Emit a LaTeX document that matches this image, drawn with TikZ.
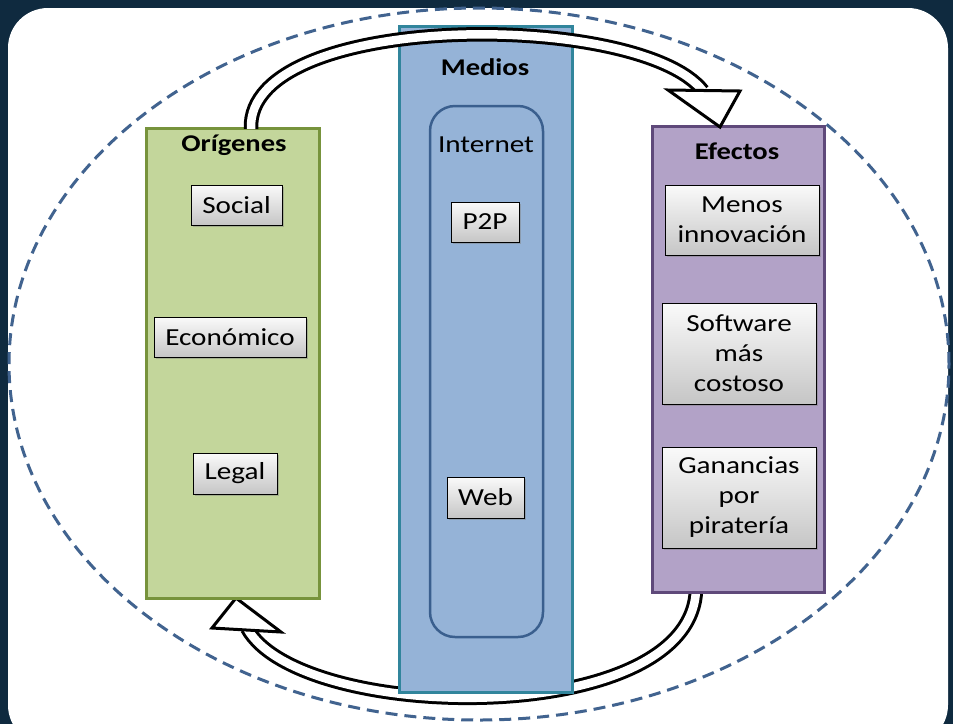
\documentclass[tikz,border=0pt]{standalone}
\usepackage{fontspec}
\setmainfont{Carlito}[FakeStretch=1.19]
\usetikzlibrary{shadows}
\definecolor{bgdark}{HTML}{0F2A3F}
\definecolor{ellcol}{HTML}{41638F}
\definecolor{greenfill}{HTML}{C3D69B}
\definecolor{greenline}{HTML}{77933C}
\definecolor{bluefill}{HTML}{95B3D7}
\definecolor{blueline}{HTML}{31859C}
\definecolor{inetline}{HTML}{3A5F8E}
\definecolor{purplefill}{HTML}{B2A2C7}
\definecolor{purpleline}{HTML}{5F497A}
\tikzset{
  container/.style={draw, line width=3pt, inner sep=0pt},
  title/.style={font=\fontsize{24}{28}\selectfont\bfseries, inner sep=0pt},
  itembox/.style={draw=black, line width=1pt, inner sep=0pt, align=center,
    top color=white!96!gray, bottom color=gray!45,
    font=\fontsize{24.5}{30}\selectfont,
    drop shadow={opacity=0.45, shadow xshift=2pt, shadow yshift=-2pt}},
  hollowshaft/.style={draw=black, line width=3pt, double=white, double distance=8.5pt},
  hollowhead/.style={draw=black, fill=white, line width=3pt, line join=miter}
}
\begin{document}
\begin{tikzpicture}[x=1pt,y=-1pt]
\useasboundingbox (0,0) rectangle (953,724);
\fill[bgdark] (0,0) rectangle (953,724);
\fill[white, rounded corners=40pt] (8,8) rectangle (948,745);
\draw[ellcol, line width=3pt, dash pattern=on 12pt off 7pt] (479,364) ellipse [x radius=470pt, y radius=356pt];

% bottom arrow (behind boxes)
\coordinate (bstart) at (696,585);
\coordinate (bend) at (247,628);
\draw[hollowshaft] (bstart) .. controls (700,730) and (300,725) .. (bend);
\draw[hollowhead] (236,598) -- (281,632) -- (212,628) -- cycle;

% containers
\node[container, draw=greenline, fill=greenfill, minimum width=173pt, minimum height=470pt] (orig) at (232.5,363) {};
\node[container, draw=blueline, fill=bluefill, minimum width=173pt, minimum height=666pt] (medios) at (485.5,359) {};
\node[draw=inetline, line width=2.5pt, rounded corners=25pt, fill=bluefill, minimum width=113pt, minimum height=531pt, inner sep=0pt] (inet) at (486.5,371.5) {};
\node[container, draw=purpleline, fill=purplefill, minimum width=172pt, minimum height=466pt] (efec) at (738,359) {};

% titles
\node[title] (torig) at (234,145) {Orígenes};
\node[title] (tmed) at (485,67) {Medios};
\node[title] (tefe) at (737,151) {Efectos};
\node[font=\fontsize{24.5}{28}\selectfont, inner sep=0pt] (tinet) at (486,145) {Internet};

% items
\node[itembox, minimum width=91pt, minimum height=40pt] (social) at (236.5,205) {Social};
\node[itembox, minimum width=152pt, minimum height=40pt] (econ) at (230,337) {Económico};
\node[itembox, minimum width=84pt, minimum height=41pt] (legal) at (235,473.5) {Legal};
\node[itembox, minimum width=68pt, minimum height=40pt] (p2p) at (485,222) {P2P};
\node[itembox, minimum width=77pt, minimum height=41pt] (web) at (485.5,497.5) {Web};
\node[itembox, minimum width=154pt, minimum height=70pt] (menos) at (742,220) {Menos\\innovación};
\node[itembox, minimum width=154pt, minimum height=101pt] (soft) at (739,353.5) {Software\\más\\costoso};
\node[itembox, minimum width=154pt, minimum height=101pt] (gan) at (739,497.5) {Ganancias\\por\\piratería};

% top arrow (over boxes)
\coordinate (tstart) at (251,129);
\coordinate (tend) at (703,91);
\draw[hollowshaft] (tstart) .. controls (246,10) and (640,10) .. (tend);
\draw[hollowhead] (720,127) -- (668,90) -- (740,91) -- cycle;
\end{tikzpicture}
\end{document}
